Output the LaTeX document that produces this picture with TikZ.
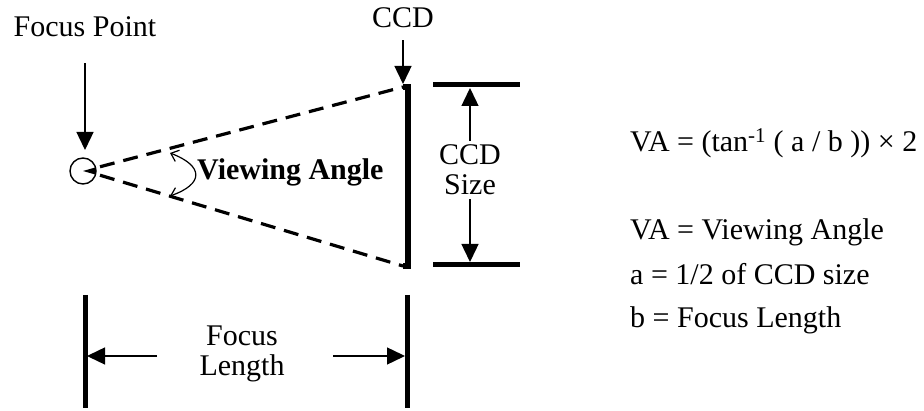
\documentclass[tikz,border=0pt]{standalone}
\usepackage{fontspec}
\setmainfont{Liberation Serif}
\usetikzlibrary{arrows.meta}
\tikzset{
  txt/.style={font=\fontsize{30}{30}\selectfont, inner sep=0pt, align=center},
  arr/.style={-{Triangle[length=18pt,width=17pt]}, line width=1.4pt},
  bar/.style={line width=5pt},
  ray/.style={line width=3.2pt, dash pattern=on 15pt off 9pt},
  swing/.style={{Straight Barb[length=7pt,width=12pt]}-{Straight Barb[length=7pt,width=12pt]}, line width=1.2pt},
}

\begin{document}
\begin{tikzpicture}[x=1pt,y=-1pt]
  \useasboundingbox (0,0) rectangle (924,411);
  % focus point
  \node[txt,anchor=base] (fp) at (85,37) {Focus Point};
  \node[draw,circle,line width=1.4pt,minimum size=26pt,inner sep=0pt] (eye) at (83,171) {};
  \fill (eye.center) -- (eye.16) -- (eye.-16) -- cycle;
  \coordinate (fptip) at (85,150);
  \draw[arr] ([yshift=-26pt]fp.south) -- (fptip);
  % ccd and rays
  \coordinate (ccdtop) at (408,87);
  \coordinate (ccdbot) at (408,266);
  \draw[ray] ([xshift=4pt]eye.18) -- ([xshift=-5pt]ccdtop);
  \draw[ray] ([xshift=4pt]eye.-18) -- ([xshift=-5pt]ccdbot);
  \draw[line width=5.5pt] ([xshift=-5pt]ccdtop) -- (ccdtop) -- (ccdbot) -- ([xshift=-5pt]ccdbot);
  \node[txt,anchor=base] (ccd) at (403,28) {CCD};
  \draw[arr] ([yshift=-12pt]ccd.south) -- ([xshift=-5pt,yshift=3pt]ccdtop);
  % viewing angle
  \node[txt,font=\fontsize{30}{30}\selectfont\bfseries,anchor=base west] (va) at (197,180) {Viewing Angle};
  \coordinate (swa) at (170,153);
  \coordinate (swb) at (170,196);
  \draw[swing] (swa) .. controls (204,166) and (204,184) .. (swb);
  % ccd size
  \coordinate (szl) at (433,85);
  \coordinate (szr) at (520,85);
  \coordinate (szbl) at (433,265);
  \coordinate (szbr) at (520,265);
  \draw[bar] (szl) -- (szr);
  \draw[bar] (szbl) -- (szbr);
  \node[txt] (size) at (470,170) {CCD\\Size};
  \coordinate (szup) at (470,88);
  \coordinate (szdn) at (470,262);
  \draw[arr] ([yshift=4pt]size.north) -- (szup);
  \draw[arr] ([yshift=-4pt]size.south) -- (szdn);
  % focus length
  \coordinate (flt) at (85,295);
  \coordinate (flb) at (85,408);
  \coordinate (frt) at (407,295);
  \coordinate (frb) at (407,408);
  \draw[bar] (flt) -- (flb);
  \draw[bar] (frt) -- (frb);
  \node[txt] (fl) at (242,354) {Focus\\Length};
  \coordinate (fla) at (157,356);
  \coordinate (flz) at (87,356);
  \coordinate (fra) at (333,356);
  \coordinate (frz) at (405,356);
  \draw[arr] (fla) -- (flz);
  \draw[arr] (fra) -- (frz);
  % formula
  \node[txt,anchor=base west] (eq) at (630,152) {VA = (tan\textsuperscript{-1} ( a / b )) × 2};
  \node[txt,anchor=base west] (d1) at (630,240) {VA = Viewing Angle};
  \node[txt,anchor=base west] (d2) at (630,285) {a = 1/2 of CCD size};
  \node[txt,anchor=base west] (d3) at (630,328) {b = Focus Length};
\end{tikzpicture}
\end{document}
